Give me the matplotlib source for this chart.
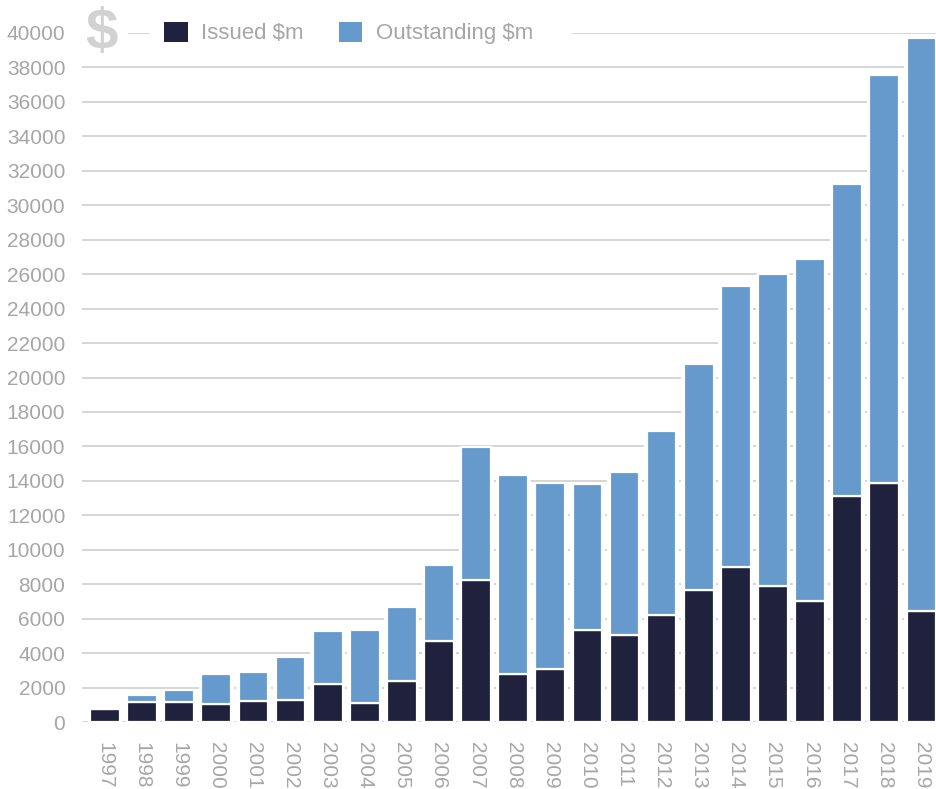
import matplotlib
matplotlib.use("Agg")
import matplotlib.pyplot as plt
from matplotlib.patches import Patch, Rectangle
import numpy as np

years = ["1997", "1998", "1999", "2000", "2001", "2002", "2003", "2004", "2005",
         "2006", "2007", "2008", "2009", "2010", "2011", "2012", "2013", "2014",
         "2015", "2016", "2017", "2018", "2019"]
issued = [800, 1200, 1150, 1050, 1250, 1300, 2250, 1100, 2400,
          4700, 8270, 2800, 3100, 5350, 5050, 6200, 7670, 9000,
          7900, 7050, 13100, 13870, 6450]
outstanding = [800, 1600, 1900, 2800, 2900, 3800, 5300, 5350, 6700,
               9150, 15960, 14350, 13900, 13830, 14500, 16900, 20800, 25300,
               26020, 26900, 31200, 37540, 39720]
yticks = list(range(0, 40001, 2000))

DARK = "#20213d"
BLUE = "#6699cc"
GREY_TXT = "#a6a6a6"
GRID = "#cacaca"

plt.rcParams['font.family'] = ['Liberation Sans', 'DejaVu Sans']

fig = plt.figure(figsize=(9.37, 7.89), dpi=100)
W, H = 937, 789
left, right = 82 / W, 1.0
bottom, top = (H - 722.3) / H, (H - 32.7) / H
ax = fig.add_axes([left, bottom, right - left, top - bottom])

x = np.arange(len(years))
seg = np.array(outstanding) - np.array(issued)

ax.set_axisbelow(True)
ax.yaxis.grid(True, color=GRID, linewidth=1.1)
ax.xaxis.grid(False)

# white halo behind bars (hides gridlines between bars)
ax.bar(x, outstanding, width=0.94, color="white", edgecolor="none", zorder=1)
ax.bar(x, issued, width=0.80, color=DARK, edgecolor="white", linewidth=1.6, zorder=2)
ax.bar(x, seg, bottom=issued, width=0.80, color=BLUE, edgecolor="white", linewidth=1.6, zorder=2)

ax.set_xlim(-0.62, len(years) - 1 + 0.42)
ax.set_ylim(0, 40000)
ax.set_yticks(yticks)
ax.set_yticklabels([str(v) for v in yticks], color=GREY_TXT, fontsize=15)
ax.set_xticks(x)
ax.set_xticklabels(years, rotation=270, color=GREY_TXT, fontsize=15, va="top", ha="center")
ax.tick_params(axis="both", length=0)
ax.tick_params(axis="y", pad=12)
ax.tick_params(axis="x", pad=14)
for s in ax.spines.values():
    s.set_visible(False)

# white boxes over top gridline for "$" and legend
fig.add_artist(Rectangle((left, 1 - 60 / H), (128 - 82) / W, 50 / H,
                         transform=fig.transFigure, facecolor="white", edgecolor="none", zorder=1))
fig.add_artist(Rectangle((150 / W, 1 - 60 / H), (572 - 150) / W, 50 / H,
                         transform=fig.transFigure, facecolor="white", edgecolor="none", zorder=1))

fig.text(102 / W, 1 - 34 / H, "$", fontsize=42, fontweight="bold", color="#d2d2d2",
         ha="center", va="center", zorder=3)

handles = [Patch(facecolor=DARK, edgecolor="none", label="Issued $m"),
           Patch(facecolor=BLUE, edgecolor="none", label="Outstanding $m")]
leg = fig.legend(handles=handles, loc="center left", bbox_to_anchor=(160 / W, 1 - 33 / H),
                 ncol=2, frameon=False, fontsize=16, handlelength=1.05, handleheight=1.05,
                 handletextpad=0.6, columnspacing=1.6, borderpad=0.2, borderaxespad=0)
for t in leg.get_texts():
    t.set_color(GREY_TXT)
leg.set_zorder(4)

fig.savefig("out.png", dpi=100, facecolor="white")
